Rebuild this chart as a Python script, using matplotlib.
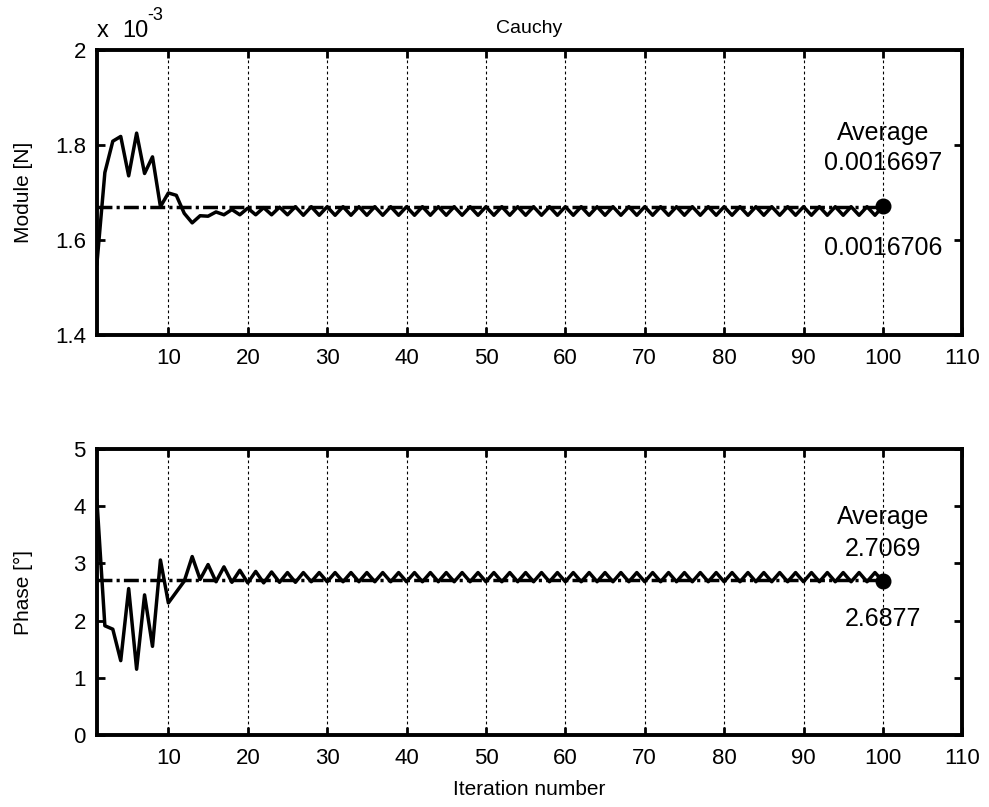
import matplotlib.pyplot as plt

plt.rcParams['font.family'] = ['Liberation Sans', 'DejaVu Sans']

# iteration numbers 1..100
iterations = list(range(1, 101))

# module values, in units of 1e-3 N
module = [
    1.550, 1.742, 1.808, 1.818, 1.735, 1.825, 1.740, 1.775, 1.670, 1.699,
    1.694, 1.656, 1.636, 1.651, 1.650, 1.659, 1.653, 1.664, 1.653, 1.667,
    1.653, 1.668, 1.653, 1.669, 1.653, 1.670, 1.652, 1.670, 1.652, 1.670,
    1.652, 1.670, 1.652, 1.670, 1.652, 1.670, 1.652, 1.670, 1.652, 1.670,
    1.652, 1.670, 1.652, 1.670, 1.652, 1.670, 1.652, 1.670, 1.652, 1.670,
    1.652, 1.670, 1.652, 1.670, 1.652, 1.670, 1.652, 1.670, 1.652, 1.670,
    1.652, 1.670, 1.652, 1.670, 1.652, 1.670, 1.652, 1.670, 1.652, 1.670,
    1.652, 1.670, 1.652, 1.670, 1.652, 1.670, 1.652, 1.670, 1.652, 1.670,
    1.652, 1.670, 1.652, 1.670, 1.652, 1.670, 1.652, 1.670, 1.652, 1.670,
    1.652, 1.670, 1.652, 1.670, 1.652, 1.670, 1.652, 1.670, 1.652, 1.6706,
]

# phase values, degrees
phase = [
    4.10, 1.91, 1.85, 1.30, 2.56, 1.15, 2.45, 1.55, 3.06, 2.31,
    2.50, 2.69, 3.12, 2.72, 2.98, 2.68, 2.94, 2.67, 2.88, 2.66,
    2.86, 2.66, 2.85, 2.67, 2.84, 2.67, 2.84, 2.68, 2.84, 2.68,
    2.84, 2.68, 2.84, 2.68, 2.84, 2.68, 2.84, 2.68, 2.84, 2.68,
    2.84, 2.68, 2.84, 2.68, 2.84, 2.68, 2.84, 2.68, 2.84, 2.68,
    2.84, 2.68, 2.84, 2.68, 2.84, 2.68, 2.84, 2.68, 2.84, 2.68,
    2.84, 2.68, 2.84, 2.68, 2.84, 2.68, 2.84, 2.68, 2.84, 2.68,
    2.84, 2.68, 2.84, 2.68, 2.84, 2.68, 2.84, 2.68, 2.84, 2.68,
    2.84, 2.68, 2.84, 2.68, 2.84, 2.68, 2.84, 2.68, 2.84, 2.68,
    2.84, 2.68, 2.84, 2.68, 2.84, 2.68, 2.84, 2.68, 2.84, 2.6877,
]

module_avg = 0.0016697
module_last = 0.0016706
phase_avg = 2.7069
phase_last = 2.6877

xticks = [10, 20, 30, 40, 50, 60, 70, 80, 90, 100, 110]
module_ticks = [1.4, 1.6, 1.8, 2.0]
module_ticklabels = ['1.4', '1.6', '1.8', '2']
phase_ticks = [0, 1, 2, 3, 4, 5]

FS = 16       # tick labels
FS_LABEL = 15
FS_NOTE = 18  # the "Average" annotations
LW = 2.5
DASHDOT = (0, (4.3, 1.2, 0.9, 1.2))

fig = plt.figure(figsize=(9.89, 8.07), dpi=100)
ax1 = fig.add_axes([0.098, 0.585, 0.875, 0.353])
ax2 = fig.add_axes([0.098, 0.0892, 0.875, 0.3544])


def style_axes(ax):
    ax.set_xlim(1, 110)
    ax.set_xticks(xticks)
    ax.grid(True, axis='x', color='black', linestyle=(0, (2.5, 2.5)), linewidth=0.8)
    ax.set_axisbelow(True)
    ax.tick_params(direction='in', length=5.5, width=2, top=True, right=True,
                   labelsize=FS)
    ax.tick_params(axis='x', pad=9.5)
    ax.tick_params(axis='y', pad=8)
    for sp in ax.spines.values():
        sp.set_linewidth(2.8)


def note(ax, text, xy, dy):
    ax.annotate(text, xy, xytext=(0, dy), textcoords='offset points',
                ha='center', va='center', fontsize=FS_NOTE)


# top panel: module
ax1.plot(iterations, module, color='black', linewidth=LW)
ax1.plot([1, 100], [module_avg * 1e3] * 2, color='black', linewidth=LW,
         linestyle=DASHDOT)
ax1.plot(100, module_last * 1e3, 'o', color='black', markersize=10.5)
style_axes(ax1)
ax1.set_ylim(1.4, 2.0)
ax1.set_yticks(module_ticks)
ax1.set_yticklabels(module_ticklabels)
ax1.set_ylabel('Module [N]', fontsize=FS_LABEL, va='center')
ax1.set_title('Cauchy', fontsize=14, pad=12)
ax1.text(0.0, 1.066, 'x', transform=ax1.transAxes, fontsize=FS + 1,
         ha='left', va='center')
ax1.text(0.029, 1.066, '10', transform=ax1.transAxes, fontsize=FS + 1,
         ha='left', va='center')
ax1.text(0.058, 1.12, '-3', transform=ax1.transAxes, fontsize=FS - 3,
         ha='left', va='center')
top_pt = (100, module_last * 1e3)
note(ax1, 'Average', top_pt, 53)
note(ax1, f'{module_avg:.7f}', top_pt, 31)
note(ax1, f'{module_last:.7f}', top_pt, -30)

# bottom panel: phase
ax2.plot(iterations, phase, color='black', linewidth=LW)
ax2.plot([1, 100], [phase_avg] * 2, color='black', linewidth=LW, linestyle=DASHDOT)
ax2.plot(100, phase_last, 'o', color='black', markersize=10.5)
style_axes(ax2)
ax2.set_ylim(0, 5)
ax2.set_yticks(phase_ticks)
ax2.set_ylabel('Phase [°]', fontsize=FS_LABEL, va='center')
ax2.set_xlabel('Iteration number', fontsize=FS_LABEL, va='center')
bot_pt = (100, phase_last)
note(ax2, 'Average', bot_pt, 46)
note(ax2, f'{phase_avg:.4f}', bot_pt, 23)
note(ax2, f'{phase_last:.4f}', bot_pt, -27)

ax1.yaxis.set_label_coords(-0.085, 0.5)
ax2.yaxis.set_label_coords(-0.085, 0.5)
ax2.xaxis.set_label_coords(0.5, -0.192)

fig.savefig('out.png', dpi=100)
